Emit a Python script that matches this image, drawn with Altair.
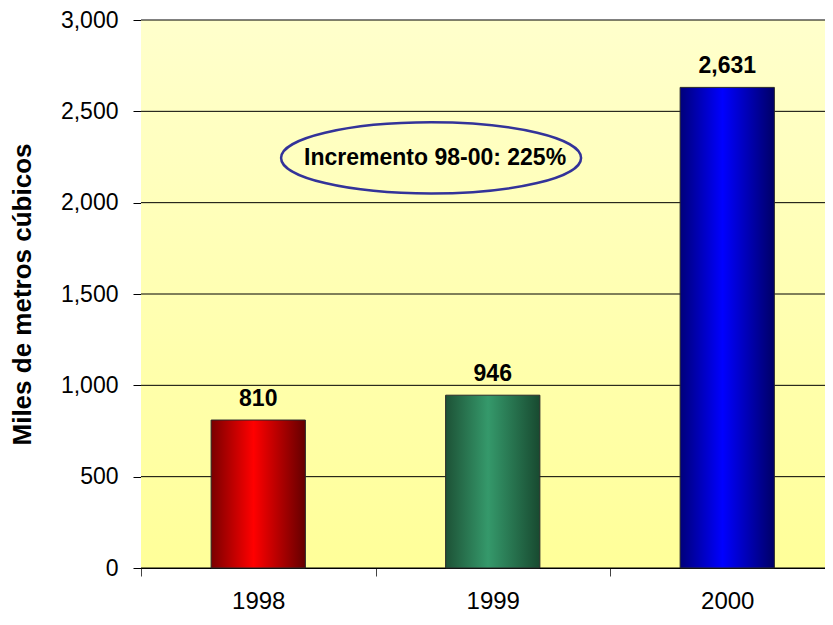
import altair as alt
import pandas as pd

# ---- data ----
years = ["1998", "1999", "2000"]
values = [810, 946, 2631]
value_labels = ["810", "946", "2,631"]
bar_edge_left = ["#7a0000", "#1d5236", "#00007a"]
bar_mid = ["#ff0000", "#35996b", "#0000ff"]
bar_edge_right = ["#640000", "#184a30", "#000066"]

note_text = ["Incremento 98-00: 225%"]
note_x = [1.237]
note_y = [2245]

y_ticks = [0, 500, 1000, 1500, 2000, 2500, 3000]
y_title = "Miles de metros cúbicos"

# ---- layout ----
W, H = 684, 548
band = 234.5
xmax = W / band
FONT = "Liberation Sans"

df = pd.DataFrame({
    "year": years,
    "value": values,
    "label": value_labels,
    "pos": [i + 0.5 for i in range(len(years))],
})
note_df = pd.DataFrame({"text": note_text, "x": note_x, "y": note_y})
grid_df = pd.DataFrame({"v": y_ticks})

label_expr = "[" + ",".join("'%s'" % y for y in years) + "][round(datum.value)]"

xscale = alt.Scale(domain=[0, xmax], nice=False, zero=False)
yscale = alt.Scale(domain=[0, 3000], nice=False)

xaxis = alt.Axis(
    values=list(range(len(years))), labelExpr=label_expr, labelOffset=band / 2,
    title=None, grid=False, tickSize=8, labelPadding=13, labelFontSize=24,
    labelFont=FONT, labelColor="black", tickColor="#444", domainColor="black",
    labelFlush=False, labelBound=False, labelOverlap=False,
)
yaxis = alt.Axis(
    values=y_ticks, format=",.0f", title=y_title, grid=False,
    tickSize=8, labelPadding=15, labelFontSize=23, labelFont=FONT,
    labelColor="black", tickColor="black", domainColor="black",
    titleFont=FONT, titleFontSize=26, titleFontWeight="bold", titleColor="black",
    titleAngle=-90, titleX=-119, titleY=H / 2, titleAlign="center",
    titleBaseline="middle",
)


def hgrad(stops, vertical=False):
    return alt.LinearGradient(
        gradient="linear",
        x1=0, x2=0 if vertical else 1, y1=0, y2=1 if vertical else 0,
        stops=[alt.GradientStop(offset=o, color=c) for o, c in stops],
    )


bg = alt.Chart(df).transform_filter(alt.datum.year == years[0]).mark_rect(
    fill=hgrad([(0, "#ffffcc"), (1, "#ffff99")], vertical=True), strokeWidth=0,
).encode(x=alt.value(0), x2=alt.value(W), y=alt.value(0), y2=alt.value(H))

grid = alt.Chart(grid_df).mark_rule(color="black", strokeWidth=1).encode(
    y=alt.Y("v:Q", scale=yscale, axis=yaxis), x=alt.value(0), x2=alt.value(W),
)

layers = [bg, grid]
for i, yr in enumerate(years):
    grad = hgrad([(0, bar_edge_left[i]), (0.45, bar_mid[i]), (1, bar_edge_right[i])])
    enc = dict(
        x=alt.X("x0:Q", scale=xscale, axis=xaxis),
        x2="x1:Q",
        y=alt.Y("value:Q", scale=yscale, axis=yaxis),
        y2=alt.datum(0),
    )
    layers.append(
        alt.Chart(df)
        .transform_filter(alt.datum.year == yr)
        .transform_calculate(x0="datum.pos - 0.201", x1="datum.pos + 0.201")
        .mark_rect(fill=grad, stroke="#2a2a2a", strokeWidth=1)
        .encode(**enc)
    )

labels = alt.Chart(df).mark_text(
    font=FONT, fontSize=23, fontWeight="bold", color="black",
    baseline="alphabetic", dy=-14,
).encode(x=alt.X("pos:Q", scale=xscale, axis=xaxis),
         y=alt.Y("value:Q", scale=yscale, axis=yaxis), text="label:N")

ellipse = alt.Chart(note_df).mark_point(
    shape="M-1,0A1,0.237 0 1,1 1,0A1,0.237 0 1,1 -1,0Z",
    size=90000, filled=False, stroke="#333399", strokeWidth=2.5, opacity=1,
).encode(x=alt.X("x:Q", scale=xscale, axis=xaxis),
         y=alt.Y("y:Q", scale=yscale, axis=yaxis))

note = alt.Chart(note_df).mark_text(
    font=FONT, fontSize=23, fontWeight="bold", color="black",
    baseline="middle", align="center", dx=4,
).encode(x=alt.X("x:Q", scale=xscale, axis=xaxis),
         y=alt.Y("y:Q", scale=yscale, axis=yaxis), text="text:N")

chart = (
    alt.layer(*layers, labels, ellipse, note)
    .properties(
        width=W, height=H,
        autosize=alt.AutoSizeParams(type="none"),
        padding={"left": 133, "top": 12, "right": 0, "bottom": 49},
        background="white",
    )
    .configure_view(strokeWidth=0)
)

chart.save("out.html", embed_options={"renderer": "svg", "actions": False})
